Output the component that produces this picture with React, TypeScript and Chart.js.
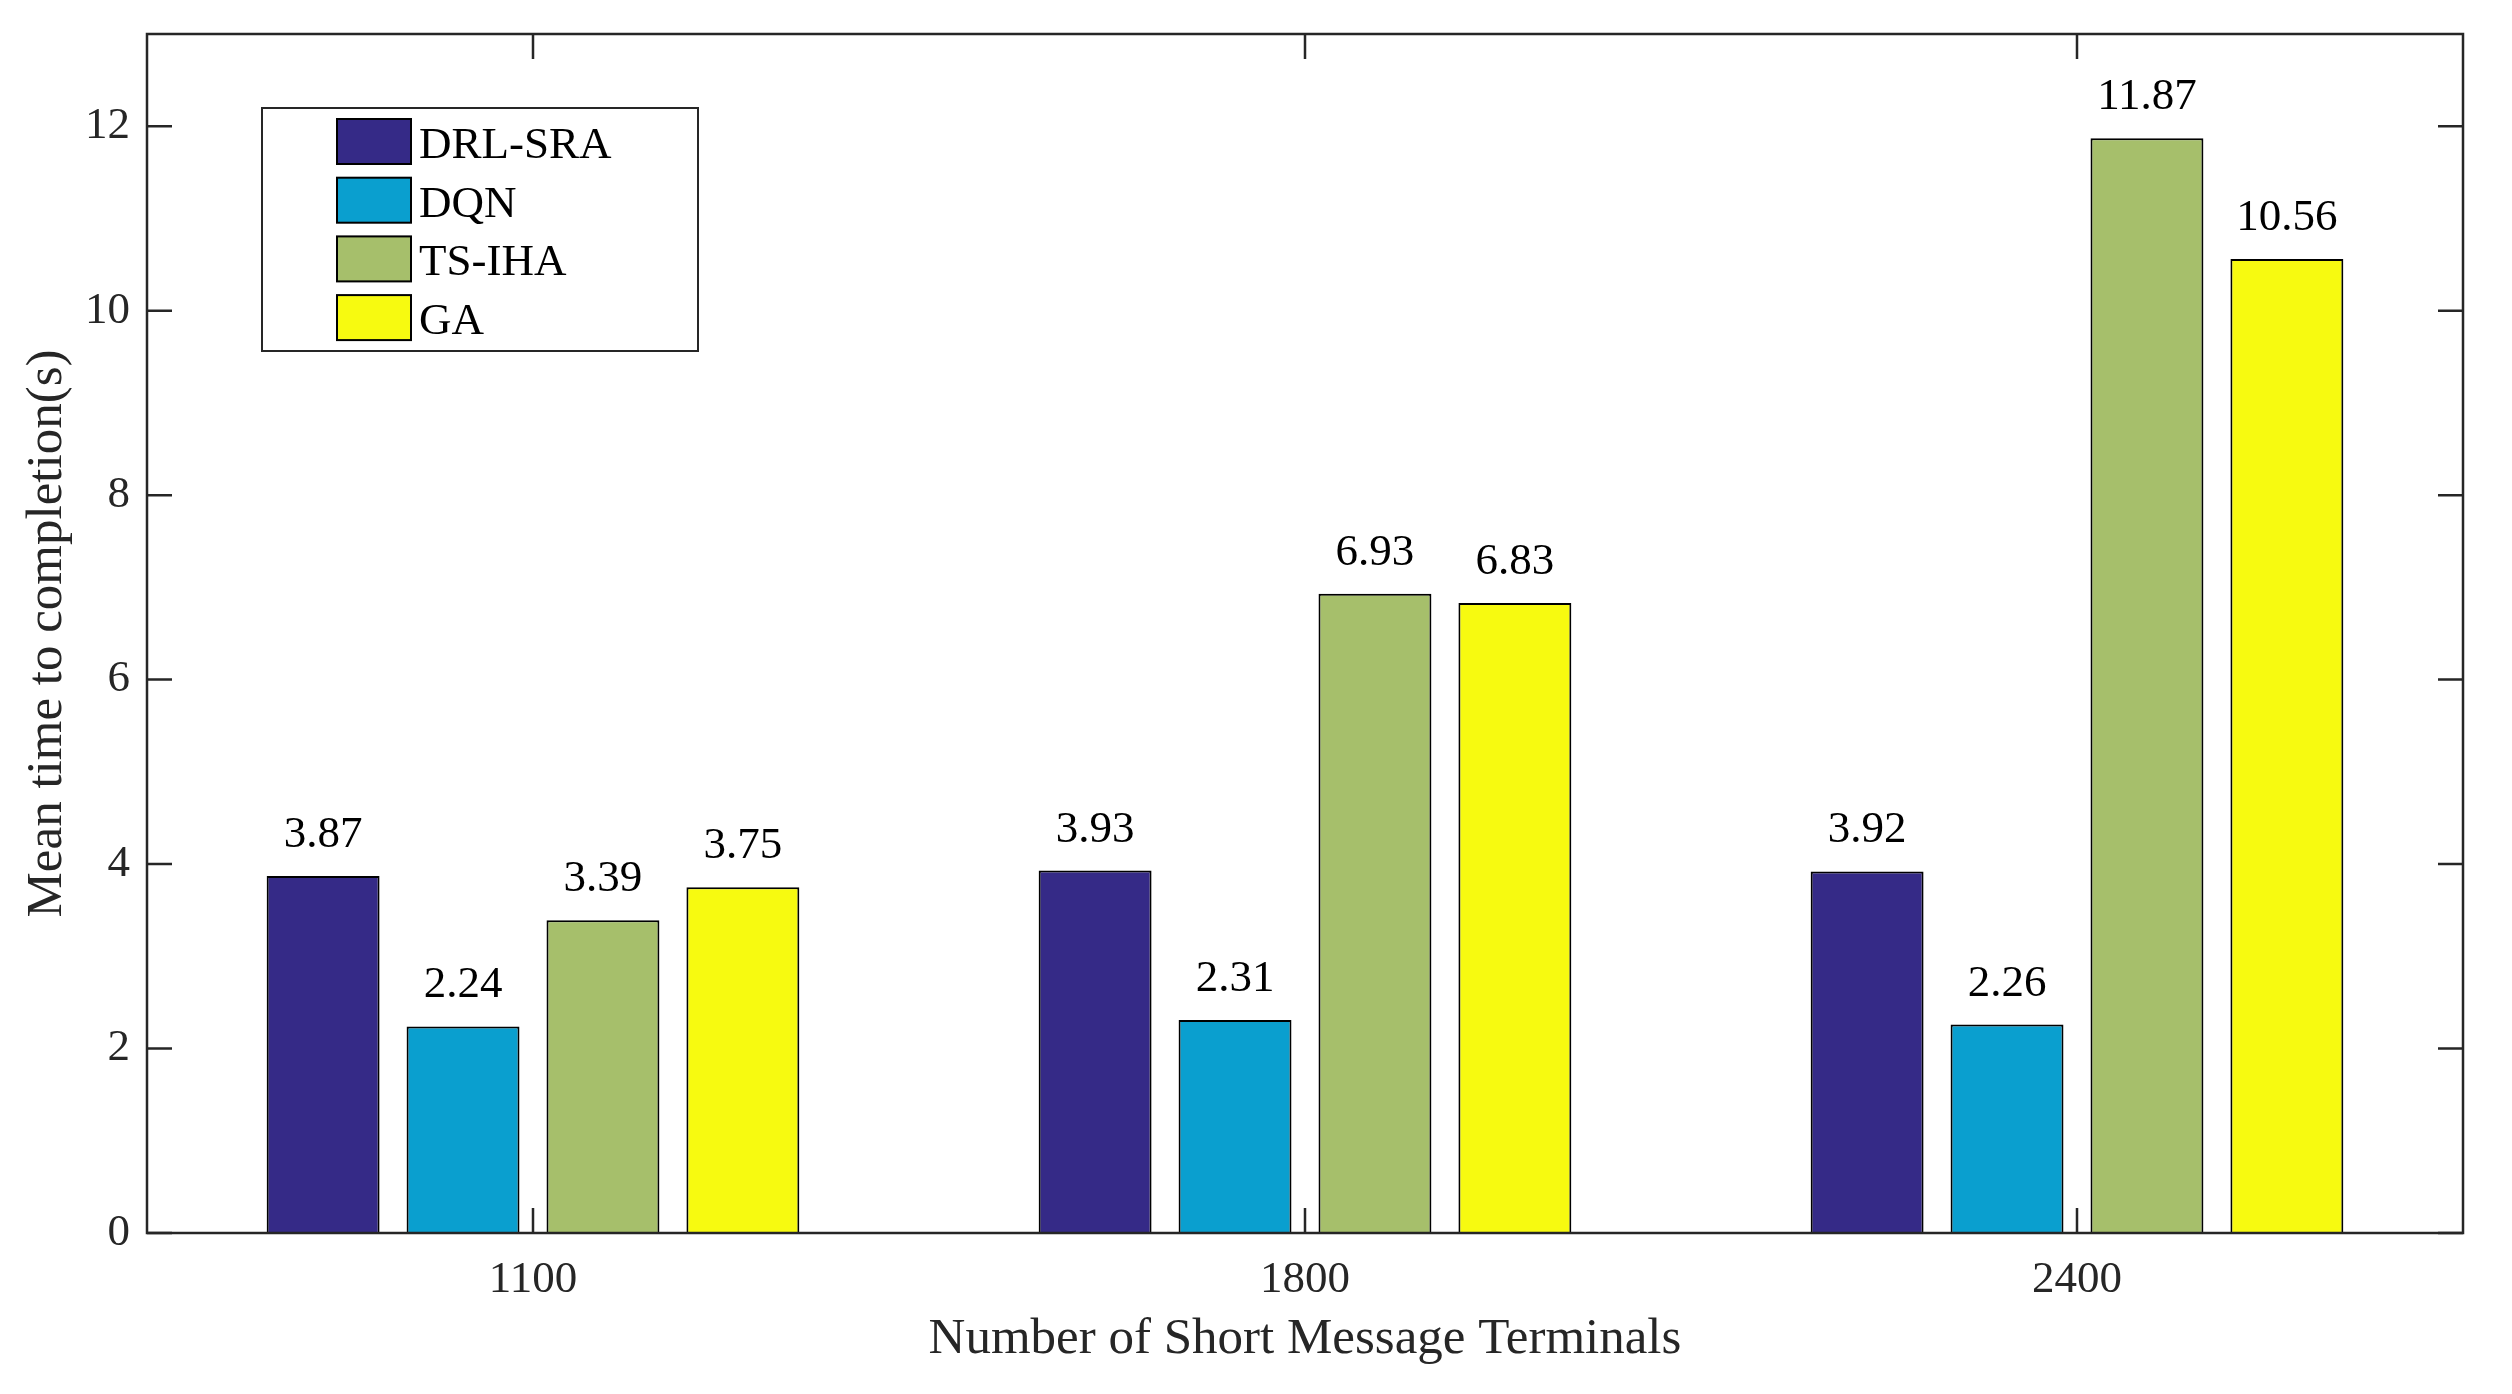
import React, { useEffect, useRef } from "react";
import { Chart, registerables } from "chart.js";

Chart.register(...registerables);

const categories = ["1100", "1800", "2400"];
const seriesNames = ["DRL-SRA", "DQN", "TS-IHA", "GA"];
const drlSra = [3.87, 3.93, 3.92];
const dqn = [2.24, 2.31, 2.26];
const tsIha = [3.39, 6.93, 11.87];
const ga = [3.75, 6.83, 10.56];
const yTicks = [0, 2, 4, 6, 8, 10, 12];
const yMin = 0;
const yMax = 13;
const colors = ["#352a87", "#0a9fcf", "#a6bf6b", "#f7fa10"];

const FONT = "'Liberation Serif', 'Times New Roman', serif";
const AXIS = "#262626";

const framePlugin = {
  id: "frame",
  afterDatasetsDraw(chart: any) {
    const { ctx, chartArea } = chart;
    const { left, right, top, bottom } = chartArea;
    const tl = 25;
    ctx.save();
    ctx.strokeStyle = AXIS;
    ctx.lineWidth = 2.5;
    ctx.beginPath();
    const ys = chart.scales.y;
    ys.ticks.forEach((t: any) => {
      const py = ys.getPixelForValue(t.value);
      ctx.moveTo(left, py);
      ctx.lineTo(left + tl, py);
      ctx.moveTo(right, py);
      ctx.lineTo(right - tl, py);
    });
    const xs = chart.scales.x;
    categories.forEach((_c, i) => {
      const px = xs.getPixelForValue(i);
      ctx.moveTo(px, bottom);
      ctx.lineTo(px, bottom - tl);
      ctx.moveTo(px, top);
      ctx.lineTo(px, top + tl);
    });
    ctx.stroke();
    ctx.strokeRect(left, top, right - left, bottom - top);
    ctx.restore();
  },
};

const valueLabelPlugin = {
  id: "valueLabels",
  afterDatasetsDraw(chart: any) {
    const { ctx } = chart;
    ctx.save();
    ctx.font = `45px ${FONT}`;
    ctx.fillStyle = "#000";
    ctx.textAlign = "center";
    ctx.textBaseline = "alphabetic";
    chart.data.datasets.forEach((ds: any, di: number) => {
      const meta = chart.getDatasetMeta(di);
      meta.data.forEach((el: any, i: number) => {
        ctx.fillText(Number(ds.data[i]).toFixed(2), el.x, el.y - 29);
      });
    });
    ctx.restore();
  },
};

const legendPlugin = {
  id: "boxLegend",
  afterDraw(chart: any) {
    const { ctx, chartArea } = chart;
    const bx = chartArea.left + 115;
    const by = chartArea.top + 74;
    ctx.save();
    ctx.fillStyle = "#fff";
    ctx.fillRect(bx, by, 436, 243);
    ctx.strokeStyle = AXIS;
    ctx.lineWidth = 2;
    ctx.strokeRect(bx, by, 436, 243);
    ctx.font = `45px ${FONT}`;
    ctx.textAlign = "left";
    ctx.textBaseline = "alphabetic";
    chart.data.datasets.forEach((ds: any, i: number) => {
      const sy = by + 11 + i * 58.7;
      const sx = bx + 75;
      ctx.fillStyle = ds.backgroundColor;
      ctx.fillRect(sx, sy, 74, 45);
      ctx.strokeStyle = "#000";
      ctx.lineWidth = 2;
      ctx.strokeRect(sx, sy, 74, 45);
      ctx.fillStyle = "#000";
      ctx.fillText(ds.label, sx + 82, sy + 39);
    });
    ctx.restore();
  },
};

export default function App() {
  const ref = useRef<HTMLCanvasElement | null>(null);
  useEffect(() => {
    document.body.style.margin = "0";
    const canvas = ref.current;
    if (!canvas) return;
    const seriesValues = [drlSra, dqn, tsIha, ga];
    const chart = new Chart(canvas, {
      type: "bar",
      data: {
        labels: categories,
        datasets: seriesNames.map((name, i) => ({
          label: name,
          data: seriesValues[i],
          backgroundColor: colors[i],
          borderColor: "#000",
          borderWidth: 2,
          categoryPercentage: 0.725,
          barPercentage: 0.807,
        })),
      },
      options: {
        responsive: false,
        animation: false,
        devicePixelRatio: 1,
        layout: { padding: { top: 34, right: 49, left: 0, bottom: 0 } },
        plugins: {
          legend: { display: false },
          tooltip: { enabled: false },
        },
        scales: {
          x: {
            grid: { display: false, drawTicks: false },
            border: { display: false },
            ticks: {
              color: AXIS,
              font: { family: FONT, size: 45 },
              padding: 20,
            },
            title: {
              display: true,
              text: "Number of Short Message Terminals",
              color: AXIS,
              font: { family: FONT, size: 51 },
              padding: { top: 0, bottom: 24 },
            },
            afterFit(scale: any) {
              scale.height = 161;
              scale.paddingLeft = 0;
              scale.paddingRight = 0;
            },
          },
          y: {
            min: yMin,
            max: yMax,
            grid: { display: false, drawTicks: false },
            border: { display: false },
            ticks: {
              color: AXIS,
              font: { family: FONT, size: 45 },
              padding: 17,
            },
            afterBuildTicks(scale: any) {
              scale.ticks = yTicks.map((v) => ({ value: v }));
            },
            title: {
              display: true,
              text: "Mean time to completion(s)",
              color: AXIS,
              font: { family: FONT, size: 51 },
              padding: { top: 17, bottom: 0 },
            },
            afterFit(scale: any) {
              scale.width = 147;
              scale.paddingTop = 0;
              scale.paddingBottom = 0;
            },
          },
        },
      },
      plugins: [framePlugin, valueLabelPlugin, legendPlugin],
    });
    return () => chart.destroy();
  }, []);
  return (
    <canvas
      ref={ref}
      width={2512}
      height={1394}
      style={{ display: "block", width: 2512, height: 1394 }}
    />
  );
}
